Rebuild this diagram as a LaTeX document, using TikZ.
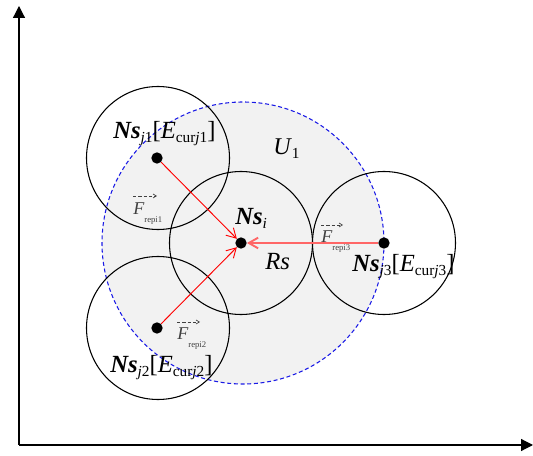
\documentclass[tikz,border=0pt]{standalone}
\usepackage{amsmath}
\usepackage{fontspec}
\setmainfont{Liberation Serif}
\usetikzlibrary{arrows.meta}
\definecolor{fillgray}{HTML}{F2F2F2}
\definecolor{dashblue}{HTML}{1A1AE6}
\newcommand\sbx[1]{\raisebox{-0.15em}{\fontsize{11.5}{13}\selectfont #1}}
\newcommand\fsb[1]{\raisebox{-0.4em}{\fontsize{6.5}{7}\selectfont #1}}
\tikzset{
  rangecircle/.style={draw=black, line width=0.8pt},
  sensor/.style={circle, fill=black, inner sep=0pt, minimum size=8.5pt},
  repel/.style={draw=red, line width=0.7pt, -{Straight Barb[length=7pt,width=8pt]}},
  bigl/.style={font=\fontsize{18.5}{21}\selectfont, inner sep=0pt, anchor=base west},
  forcel/.style={font=\fontsize{13.5}{15}\selectfont, text=black!75, inner sep=0pt, anchor=base west},
  overarr/.style={draw=black!75, line width=0.5pt, dash pattern=on 2.6pt off 1.4pt, -{Straight Barb[length=2.5pt,width=3pt]}},
  axis/.style={draw=black, line width=0.9pt, -{Triangle[length=9pt,width=9pt]}}
}
\begin{document}
\begin{tikzpicture}[x=0.75pt,y=-0.75pt]
\useasboundingbox (0,0) rectangle (533,456);
% big dashed region
\fill[fillgray] (243,243) circle (141);
\draw[dashblue, line width=0.8pt, dash pattern=on 3pt off 2pt] (243,243) circle (141);
% range circles
\draw[rangecircle] (241,243) circle (71.5);
\draw[rangecircle] (158,158) circle (71.5);
\draw[rangecircle] (158,328) circle (71.5);
\draw[rangecircle] (384,243) circle (71.5);
% axes
\coordinate (O) at (19,445);
\coordinate (Ytop) at (19,6);
\coordinate (Xend) at (533,445);
\draw[axis] (O) -- (Ytop);
\draw[axis] (O) -- (Xend);
% sensors
\node[sensor] (ni) at (241,243) {};
\node[sensor] (n1) at (157,158) {};
\node[sensor] (n2) at (157,328) {};
\node[sensor] (n3) at (384,243) {};
% force labels (under arrows)
\node[forcel] (f1) at (133,215) {\textit{F}\fsb{repi1}};
\draw[overarr] ([shift={(0,-19)}]f1.base west) -- ([shift={(24,-19)}]f1.base west);
\node[forcel] (f2) at (177,340) {\textit{F}\fsb{repi2}};
\draw[overarr] ([shift={(0,-18)}]f2.base west) -- ([shift={(23,-18)}]f2.base west);
\node[forcel] (f3) at (321,243) {\textit{F}\fsb{repi3}};
\draw[overarr] ([shift={(0,-18)}]f3.base west) -- ([shift={(22,-18)}]f3.base west);
% repulsion arrows
\draw[repel] (n1) -- (ni);
\draw[repel] (n2) -- (ni);
\draw[red!60, line width=1.4pt, -{Straight Barb[length=7pt,width=8pt]}] (n3) -- (ni);
% labels
\node[bigl] (l1) at (113,139) {\textbf{\textit{Ns}}\sbx{\textit{j}1}[\textit{E}\sbx{cur\textit{j}1}]};
\node[bigl] (l2) at (110,373) {\textbf{\textit{Ns}}\sbx{\textit{j}2}[\textit{E}\sbx{cur\textit{j}2}]};
\node[bigl] (l3) at (352,272) {\textbf{\textit{Ns}}\sbx{\textit{j}3}[\textit{E}\sbx{cur\textit{j}3}]};
\node[bigl] (li) at (235,225) {\textbf{\textit{Ns}}\sbx{\textit{i}}};
\node[bigl] (rs) at (265,270) {\textit{Rs}};
\node[bigl, font=\fontsize{18}{20}\selectfont] (u1) at (273,155) {\textit{U}\sbx{1}};
\end{tikzpicture}
\end{document}
